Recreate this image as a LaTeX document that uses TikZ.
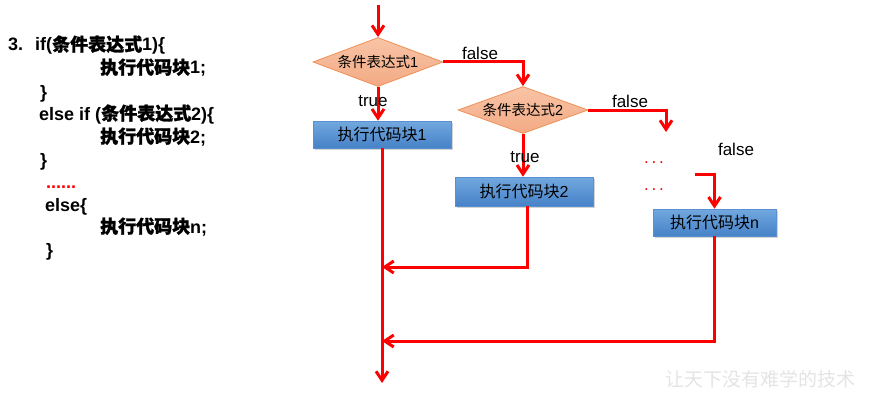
\documentclass[tikz,border=0pt]{standalone}
\usepackage{fontspec}
\setmainfont{Liberation Sans}
\newfontfamily\cjk{Noto Sans CJK SC}
\newfontfamily\cjkb[FakeBold=1.5]{Noto Sans CJK SC}
\newcommand\myzh[1]{{\cjk #1}}
\newcommand\myzhb[1]{{\cjkb #1}}
\usetikzlibrary{shapes.geometric,arrows.meta,shadows}
\definecolor{lnred}{HTML}{FF0000}
\definecolor{boxtop}{HTML}{72A8DF}
\definecolor{boxbot}{HTML}{4682C8}
\definecolor{boxline}{HTML}{5A90D2}
\definecolor{dtop}{HTML}{F8C4A6}
\definecolor{dbot}{HTML}{F3AA84}
\definecolor{dline}{HTML}{EE9058}
\definecolor{wmark}{HTML}{E4E4E4}
\tikzset{
  codeline/.style={anchor=base west, inner sep=0pt, font=\fontsize{18}{18}\selectfont\bfseries},
  decision/.style={diamond, aspect=2.65, inner sep=0pt, top color=dtop, bottom color=dbot,
    draw=dline, line width=0.8pt, font=\fontsize{14.5}{14.5}\selectfont},
  blockbox/.style={rectangle, inner sep=0pt, top color=boxtop, bottom color=boxbot,
    draw=boxline, line width=0.6pt, font=\fontsize{16}{16}\selectfont,
    drop shadow={shadow xshift=1.5pt, shadow yshift=-1.5pt, opacity=0.35}},
  flow/.style={draw=lnred, line width=3pt},
  flowarr/.style={flow, -{Straight Barb[length=9pt,width=12pt]}},
  lbl/.style={inner sep=0pt, font=\fontsize{17}{17}\selectfont},
  reddots/.style={inner sep=0pt, text=lnred, font=\fontsize{17}{17}\selectfont}
}
\begin{document}
\begin{tikzpicture}[x=1pt,y=-1pt]
\useasboundingbox (0,0) rectangle (870,404);

% code text
\node[codeline] (c0) at (8,51) {3.};
\node[codeline] (c1) at (35,51) {if(\myzhb{条件表达式}1)\{};
\node[codeline] (c2) at (100,74) {\myzhb{执行代码块}1;};
\node[codeline] (c3) at (40,98) {\}};
\node[codeline] (c4) at (39,120) {else if (\myzhb{条件表达式}2)\{};
\node[codeline] (c5) at (100,143) {\myzhb{执行代码块}2;};
\node[codeline] (c6) at (40,166) {\}};
\node[codeline, text=lnred] (c7) at (46,188) {......};
\node[codeline] (c8) at (45,211) {else\{};
\node[codeline] (c9) at (100,233) {\myzhb{执行代码块}n;};
\node[codeline] (c10) at (46,256) {\}};

% flowchart nodes
\node[decision, minimum width=130pt, minimum height=49pt] (d1) at (378,62) {\myzh{条件表达式}1};
\node[blockbox, minimum width=138pt, minimum height=27pt] (b1) at (382,134.5) {\myzh{执行代码块}1};
\node[decision, minimum width=130pt, minimum height=47pt] (d2) at (523,110) {\myzh{条件表达式}2};
\node[blockbox, minimum width=138pt, minimum height=29pt] (b2) at (524,191.5) {\myzh{执行代码块}2};
\node[blockbox, minimum width=123pt, minimum height=27pt] (bn) at (714.5,222.5) {\myzh{执行代码块}n};

\coordinate (start) at (378,5);
\coordinate (c1e) at (666,132);
\coordinate (c2s) at (695,174);
\coordinate (m1) at (382,267);
\coordinate (m2) at (382,341);
\coordinate (fin) at (382,383);

% connectors
\draw[flowarr] (start) -- (d1.north);
\draw[flowarr] (d1.south) -- (d1.south |- b1.north);
\draw[flowarr] (d1.east) -| (d2.north);
\draw[flowarr] (d2.south) -- (d2.south |- b2.north);
\draw[flowarr] (d2.east) -| (c1e);
\draw[flowarr] (c2s) -| (bn.north);
\draw[flowarr] (b1.south) -- (fin);
\draw[flowarr] ([xshift=3pt]b2.south) |- (m1);
\draw[flowarr] (bn.south) |- (m2);

% labels
\node[lbl] (t1) at (373,101) {true};
\node[lbl] (f1) at (480,53) {false};
\node[lbl] (t2) at (525,157) {true};
\node[lbl] (f2) at (630,101) {false};
\node[lbl] (f3) at (736,149) {false};
\node[reddots] (dots1) at (654,163) {.\,.\,.};
\node[reddots] (dots2) at (654,190) {.\,.\,.};

% watermark
\node[inner sep=0pt, text=wmark, font=\cjk\fontsize{19}{19}\selectfont] (wm) at (760,379) {让天下没有难学的技术};
\end{tikzpicture}
\end{document}
